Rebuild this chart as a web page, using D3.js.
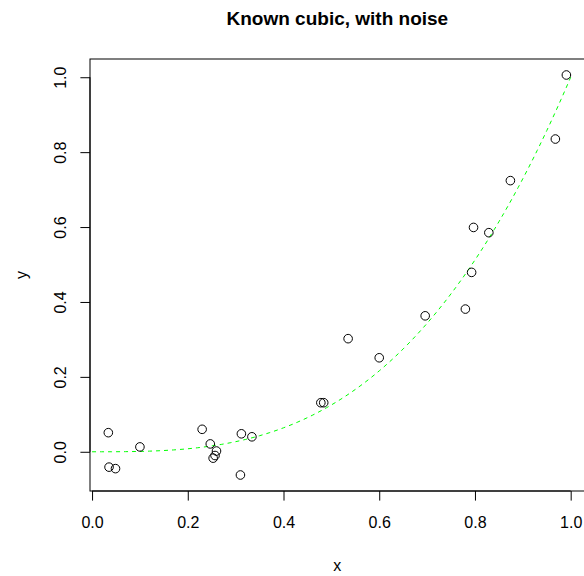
<!DOCTYPE html>
<html>
<head>
<meta charset="utf-8">
<script src="https://cdn.jsdelivr.net/npm/d3@7"></script>
<style>
  body { margin: 0; background: #fff; }
  svg { display: block; font-family: "Liberation Sans", Arial, sans-serif; }
</style>
</head>
<body>
<svg id="chart" width="584" height="576"></svg>
<script>
const xs = [0.034, 0.100, 0.0355, 0.049, 0.230, 0.247, 0.260, 0.257, 0.253, 0.312, 0.310, 0.334,
  0.478, 0.484, 0.535, 0.600, 0.696, 0.780, 0.793, 0.797, 0.829, 0.874, 0.968, 0.991];
const ys = [0.051, 0.013, -0.041, -0.045, 0.060, 0.021, 0.002, -0.010, -0.017, 0.048, -0.062, 0.040,
  0.131, 0.131, 0.302, 0.251, 0.363, 0.381, 0.479, 0.599, 0.585, 0.724, 0.835, 1.006];

// the known cubic: y = c0 + c1 x + c2 x^2 + c3 x^3, drawn over [0, 1]
const cubicCoef = [0, 0, 0, 1];
const curveRange = [0, 1];

const xTicks = [0, 0.2, 0.4, 0.6, 0.8, 1.0];
const yTicks = [0, 0.2, 0.4, 0.6, 0.8, 1.0];

const title = "Known cubic, with noise";
const xLabel = "x";
const yLabel = "y";

const svg = d3.select("#chart");
const plot = { left: 90, right: 584.7, top: 59, bottom: 491 };

// R style 4% padding on each side
function padded(vals) {
  const [lo, hi] = d3.extent(vals);
  const p = (hi - lo) * 0.04;
  return [lo - p, hi + p];
}

const x = d3.scaleLinear().domain(padded(xs)).range([plot.left, plot.right]);
const y = d3.scaleLinear().domain(padded(ys)).range([plot.bottom, plot.top]);

const fmt = d3.format(".1f");

// box
svg.append("rect")
  .attr("x", plot.left)
  .attr("y", plot.top)
  .attr("width", plot.right - plot.left)
  .attr("height", plot.bottom - plot.top)
  .attr("fill", "none")
  .attr("stroke", "#000")
  .attr("stroke-width", 1);

// x axis
const xAxis = d3.axisBottom(x).tickValues(xTicks).tickFormat(fmt).tickSize(9.6).tickSizeOuter(0).tickPadding(16);
const gx = svg.append("g")
  .attr("transform", "translate(0," + plot.bottom + ")")
  .call(xAxis);
gx.select(".domain").attr("d", "M" + x(xTicks[0]) + ",0H" + x(xTicks[xTicks.length - 1]));
gx.selectAll("text").attr("font-size", "16px").attr("font-family", "Liberation Sans, Arial, sans-serif").attr("fill", "#000");

// y axis
const yAxis = d3.axisLeft(y).tickValues(yTicks).tickFormat(fmt).tickSize(9.6).tickSizeOuter(0);
const gy = svg.append("g")
  .attr("transform", "translate(" + plot.left + ",0)")
  .call(yAxis);
gy.select(".domain").attr("d", "M0," + y(yTicks[0]) + "V" + y(yTicks[yTicks.length - 1]));
gy.selectAll("text")
  .attr("font-size", "16px")
  .attr("font-family", "Liberation Sans, Arial, sans-serif")
  .attr("fill", "#000")
  .attr("x", null).attr("dy", null)
  .attr("text-anchor", "middle")
  .attr("transform", "translate(-24,0) rotate(-90)");

// cubic curve
const poly = (v) => cubicCoef.reduce((s, c, i) => s + c * Math.pow(v, i), 0);
const curvePts = d3.range(0, 101).map((i) => {
  const v = curveRange[0] + (curveRange[1] - curveRange[0]) * i / 100;
  return [v, poly(v)];
});
svg.append("path")
  .datum(curvePts)
  .attr("d", d3.line().x((d) => x(d[0])).y((d) => y(d[1])))
  .attr("fill", "none")
  .attr("stroke", "#00ff00")
  .attr("stroke-width", 1)
  .attr("stroke-dasharray", "4,4");

// points
svg.append("g")
  .selectAll("circle")
  .data(xs.map((v, i) => [v, ys[i]]))
  .enter()
  .append("circle")
  .attr("cx", (d) => x(d[0]))
  .attr("cy", (d) => y(d[1]))
  .attr("r", 4.3)
  .attr("fill", "none")
  .attr("stroke", "#000")
  .attr("stroke-width", 1);

// title and labels
const midX = (plot.left + plot.right) / 2;
svg.append("text")
  .attr("x", midX)
  .attr("y", 25)
  .attr("text-anchor", "middle")
  .attr("font-size", "19px")
  .attr("font-weight", "bold")
  .text(title);

svg.append("text")
  .attr("x", midX)
  .attr("y", 571)
  .attr("text-anchor", "middle")
  .attr("font-size", "16px")
  .text(xLabel);

svg.append("text")
  .attr("transform", "translate(27," + (plot.top + plot.bottom) / 2 + ") rotate(-90)")
  .attr("text-anchor", "middle")
  .attr("font-size", "16px")
  .text(yLabel);
</script>
</body>
</html>
